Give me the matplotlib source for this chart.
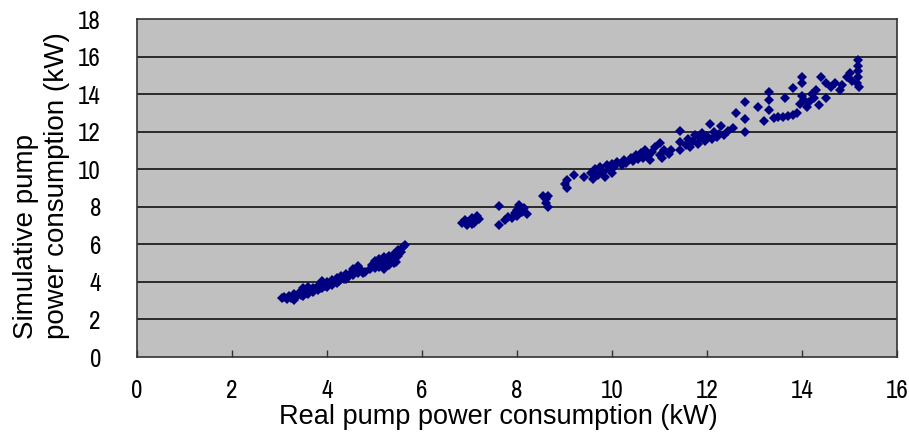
#!/usr/bin/env python3

import numpy as np
import matplotlib
matplotlib.use('Agg')
import matplotlib.pyplot as plt
from matplotlib import font_manager

# real vs simulated pump power (kW)
real_kw = [
    3.05, 3.10, 3.15, 3.20, 3.25, 3.30, 3.35, 3.40, 3.45, 3.50, 3.50, 3.55,
    3.60, 3.60, 3.65, 3.70, 3.70, 3.75, 3.80, 3.80, 3.85, 3.90, 3.90, 3.95,
    4.00, 4.00, 4.05, 4.10, 4.10, 4.15, 4.20, 4.25, 4.30, 4.35, 4.40, 4.45,
    4.50, 4.55, 4.60, 4.65, 4.70, 4.75, 4.80,
    3.30, 3.50, 3.60, 3.90, 4.20, 4.40, 4.55, 4.65,
    4.90, 4.95, 5.00, 5.00, 5.05, 5.10, 5.10, 5.15, 5.20, 5.20, 5.25, 5.30,
    5.30, 5.35, 5.40, 5.40, 5.45, 5.45, 5.50, 5.50, 5.55, 5.60, 5.65,
    6.85, 6.90, 6.95, 6.95, 7.00, 7.05, 7.05, 7.10, 7.15, 7.20,
    7.62, 7.62, 7.75, 7.80, 7.90, 7.95, 8.00, 8.00, 8.05, 8.10, 8.15, 8.20,
    8.55, 8.60, 8.62, 8.65, 8.65,
    9.00, 9.05, 9.05, 9.20, 9.40,
    9.55, 9.60, 9.65, 9.70, 9.75, 9.80, 9.85, 9.90, 9.95, 10.00, 10.00, 10.05,
    10.10, 10.20, 10.25, 10.30, 10.40, 10.45, 10.50, 10.55, 10.60, 10.65,
    10.70, 10.75, 10.80, 10.85, 10.90, 11.00, 11.00, 11.05, 11.10, 11.20,
    11.25, 11.43, 11.43, 11.43, 11.55, 11.60, 11.65, 11.70, 11.75, 11.80,
    11.85, 11.90, 11.95, 12.00, 12.06, 12.10, 12.15, 12.20, 12.25, 12.30,
    12.35, 12.45, 12.55, 12.60, 12.80, 12.80, 12.80, 13.07,
    13.20, 13.30, 13.30, 13.30, 13.40, 13.50, 13.60, 13.70, 13.80, 13.90,
    13.65, 13.80, 14.00, 14.00, 14.00, 14.10, 13.95, 14.05, 14.15, 14.20,
    14.25, 14.30, 14.35, 14.40, 14.50, 14.50, 14.60, 14.70, 14.80, 14.85,
    14.95, 15.00, 15.05, 15.15, 15.18, 15.18, 15.18, 15.18, 15.20,
]
sim_kw = [
    3.15, 3.20, 3.10, 3.25, 3.15, 3.35, 3.20, 3.40, 3.30, 3.50, 3.25, 3.40,
    3.60, 3.35, 3.50, 3.70, 3.45, 3.60, 3.80, 3.55, 3.70, 3.90, 3.65, 3.80,
    4.00, 3.75, 3.90, 4.10, 3.85, 4.00, 4.20, 4.05, 4.30, 4.15, 4.40, 4.25,
    4.50, 4.35, 4.60, 4.45, 4.70, 4.50, 4.55,
    3.05, 3.65, 3.75, 4.05, 3.95, 4.15, 4.70, 4.85,
    4.70, 4.90, 5.10, 4.75, 4.95, 5.20, 4.80, 5.00, 5.30, 4.70, 5.10, 5.40,
    4.90, 5.20, 5.50, 5.00, 5.30, 5.05, 5.70, 5.40, 5.60, 5.85, 5.95,
    7.15, 7.30, 7.05, 7.20, 7.25, 7.40, 7.10, 7.15, 7.50, 7.35,
    8.05, 7.05, 7.30, 7.45, 7.40, 7.65, 7.85, 7.50, 8.10, 7.70, 7.95, 7.60,
    8.60, 8.40, 8.20, 8.55, 8.00,
    9.20, 9.45, 9.00, 9.70, 9.60,
    9.80, 9.50, 10.00, 9.70, 10.10, 9.85, 9.60, 10.20, 9.95, 10.30, 9.80, 10.10,
    10.40, 10.20, 10.50, 10.35, 10.60, 10.45, 10.75, 10.55, 10.85, 10.60,
    11.00, 10.70, 10.50, 10.90, 11.20, 10.75, 11.40, 10.60, 11.00, 10.80,
    11.05, 12.06, 11.45, 11.00, 11.30, 11.60, 11.20, 11.50, 11.80, 11.35,
    11.65, 11.95, 11.50, 11.75, 12.40, 11.60, 12.00, 11.70, 11.90, 12.30,
    11.80, 12.05, 12.20, 13.00, 12.70, 12.00, 13.60, 13.30,
    12.55, 14.10, 13.70, 13.15, 12.75, 12.80, 12.80, 12.85, 12.90, 13.00,
    13.80, 14.30, 14.90, 14.60, 13.90, 13.30, 13.50, 13.70, 13.60, 14.00,
    13.80, 14.20, 13.40, 14.90, 14.60, 13.80, 14.40, 14.60, 14.20, 14.50,
    14.90, 15.10, 14.70, 14.60, 14.90, 15.25, 15.50, 15.80, 14.40,
]

x_ticks = [0, 2, 4, 6, 8, 10, 12, 14, 16]
y_ticks = [0, 2, 4, 6, 8, 10, 12, 14, 16, 18]

# tick digits in the reference are tall and narrow: use a narrow regular face if any
narrow = [f.name for f in font_manager.fontManager.ttflist
          if ('Narrow' in f.name or 'Condensed' in f.name)
          and f.weight in (400, 'normal', 'regular') and f.style == 'normal']
if narrow:
    tick_font = [narrow[0], 'DejaVu Sans']
    tick_size = 18
else:
    tick_font = ['Liberation Serif', 'DejaVu Sans']
    tick_size = 18
label_font = ['Liberation Sans', 'DejaVu Sans']

fig = plt.figure(figsize=(9.09, 4.40), dpi=100)
fig.patch.set_facecolor('white')
ax = fig.add_axes([137 / 909, 1 - 357 / 440, 760 / 909, 338 / 440])
ax.set_facecolor('#c0c0c0')

# horizontal gridlines only
for yv in y_ticks[1:-1]:
    ax.axhline(yv, color='#2a2a2a', lw=1.4, zorder=1)

ax.plot(real_kw, sim_kw, linestyle='none', marker='D', markersize=5.2,
        color='#000080', markeredgewidth=0, zorder=3)

ax.set_xlim(0, 16)
ax.set_ylim(0, 18)
ax.set_xticks(x_ticks)
ax.set_yticks(y_ticks)
ax.set_xticklabels([str(v) for v in x_ticks], family=tick_font, fontsize=tick_size)
ax.set_yticklabels([str(v) for v in y_ticks], family=tick_font, fontsize=tick_size)
ax.tick_params(axis='x', direction='in', length=5, width=1, pad=16,
               color='#333333')
ax.tick_params(axis='y', length=0, pad=26)

for s in ax.spines.values():
    s.set_color('#333333')
    s.set_linewidth(1.2)

fig.text(498 / 909, 1 - 417 / 440, 'Real pump power consumption (kW)',
         ha='center', va='center', fontsize=19.5, family=label_font)
fig.text(42 / 909, 1 - 186 / 440, 'Simulative pump\npower consumption (kW)',
         ha='center', va='center', rotation=90, fontsize=20,
         family=label_font, multialignment='left', linespacing=1.25)

fig.savefig('out.png', dpi=100)
